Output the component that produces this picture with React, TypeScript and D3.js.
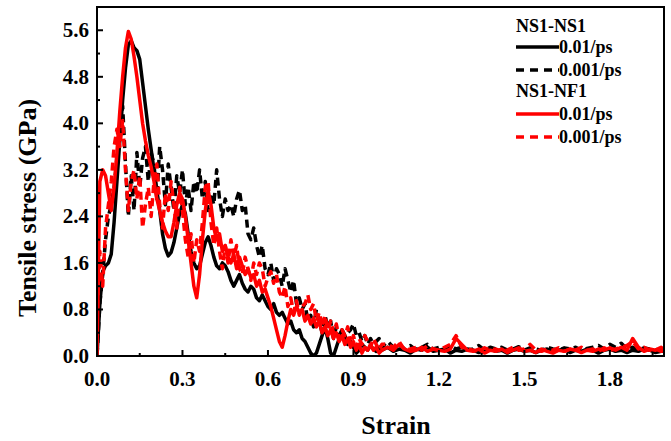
import React from "react";
import * as d3 from "d3";

const strain = [
  0.00, 0.01, 0.02, 0.03, 0.04, 0.05, 0.06, 0.07, 0.08, 0.09,
  0.10, 0.11, 0.12, 0.13, 0.14, 0.15, 0.16, 0.17, 0.18, 0.19,
  0.20, 0.21, 0.22, 0.23, 0.24, 0.25, 0.26, 0.27, 0.28, 0.29,
  0.30, 0.31, 0.32, 0.33, 0.34, 0.35, 0.36, 0.37, 0.38, 0.39,
  0.40, 0.41, 0.42, 0.43, 0.44, 0.45, 0.46, 0.47, 0.48, 0.49,
  0.50, 0.51, 0.52, 0.53, 0.54, 0.55, 0.56, 0.57, 0.58, 0.59,
  0.60, 0.61, 0.62, 0.63, 0.64, 0.65, 0.66, 0.67, 0.68, 0.69,
  0.70, 0.71, 0.72, 0.73, 0.74, 0.75, 0.76, 0.77, 0.78, 0.79,
  0.80, 0.81, 0.82, 0.83, 0.84, 0.85, 0.86, 0.87, 0.88, 0.89,
  0.90, 0.91, 0.92, 0.93, 0.94, 0.95, 0.96, 0.97, 0.98, 0.99,
  1.00, 1.02, 1.04, 1.06, 1.08, 1.10, 1.12, 1.14, 1.16, 1.18,
  1.20, 1.22, 1.24, 1.26, 1.28, 1.30, 1.32, 1.34, 1.36, 1.38,
  1.40, 1.42, 1.44, 1.46, 1.48, 1.50, 1.52, 1.54, 1.56, 1.58,
  1.60, 1.62, 1.64, 1.66, 1.68, 1.70, 1.72, 1.74, 1.76, 1.78,
  1.80, 1.82, 1.84, 1.86, 1.88, 1.90, 1.92, 1.94, 1.96, 1.98,
  2.00,
];

// NS1-NS1, 0.01/ps (black solid)
const nsnsFast = [
  0.0, 0.9, 1.45, 1.55, 1.6, 1.75, 2.3, 3.0, 3.7, 4.4,
  4.95, 5.35, 5.42, 5.3, 5.25, 5.1, 4.7, 4.3, 3.9, 3.55,
  3.2, 2.85, 2.5, 2.1, 1.85, 1.72, 1.78, 1.95, 2.2, 2.45,
  2.6, 2.45, 2.1, 1.8, 1.6, 1.5, 1.55, 1.75, 1.95, 2.05,
  1.9, 1.7, 1.55, 1.5, 1.6, 1.55, 1.45, 1.3, 1.2, 1.3,
  1.4, 1.25, 1.15, 1.1, 1.2, 1.15, 1.0, 0.95, 1.05, 0.95,
  0.85, 0.8, 0.9, 0.75, 0.7, 0.75, 0.65, 0.55, 0.6, 0.45,
  0.4, 0.45, 0.3, 0.25, 0.15, 0.05, 0.0, 0.05, 0.2, 0.35,
  0.5, 0.3, 0.05, 0.0, 0.15, 0.3, 0.45, 0.35, 0.2, 0.25,
  0.15, 0.05, 0.1, 0.2, 0.15, 0.1, 0.18, 0.12, 0.08, 0.15,
  0.1, 0.15, 0.08, 0.12, 0.1, 0.05, 0.12, 0.1, 0.15, 0.08,
  0.1, 0.12, 0.05, 0.1, 0.08, 0.12, 0.1, 0.06, 0.1, 0.12,
  0.08, 0.1, 0.05, 0.1, 0.12, 0.08, 0.1, 0.06, 0.1, 0.12,
  0.08, 0.1, 0.12, 0.06, 0.1, 0.08, 0.12, 0.1, 0.05, 0.1,
  0.12, 0.08, 0.1, 0.06, 0.1, 0.08, 0.12, 0.1, 0.06, 0.08,
  0.08,
];

// NS1-NS1, 0.001/ps (black dashed)
const nsnsSlow = [
  0.0, 0.9, 1.4, 2.0, 2.4, 2.6, 2.9, 3.4, 3.9, 4.3,
  3.3, 2.4, 3.1, 2.5, 3.5, 2.9, 3.4, 3.6, 3.0, 3.5,
  3.3, 2.7, 3.6, 3.2, 2.6, 3.3, 2.9, 2.5, 3.1, 2.8,
  3.2, 2.6, 2.9, 2.5, 3.0, 2.8, 3.2, 2.7, 3.0, 2.5,
  2.8, 2.6, 3.2, 2.7, 2.4, 2.7, 2.5, 2.6, 2.4, 2.7,
  2.85, 2.5, 2.6, 2.1, 2.0, 2.2, 1.9, 1.7, 1.9, 1.5,
  1.4, 1.6, 1.3, 1.5, 1.4, 1.2, 1.5, 1.3, 1.1, 1.3,
  0.9, 1.0, 0.8, 0.9, 0.6, 0.7, 0.5, 0.8, 0.6, 0.4,
  0.7, 0.5, 0.6, 0.3, 0.5, 0.35, 0.45, 0.3, 0.4, 0.45,
  0.55, 0.35, 0.4, 0.25, 0.35, 0.2, 0.3, 0.2, 0.25, 0.3,
  0.15, 0.25, 0.15, 0.2, 0.12, 0.18, 0.1, 0.15, 0.2, 0.12,
  0.15, 0.1, 0.18, 0.12, 0.15, 0.1, 0.12, 0.18, 0.1, 0.15,
  0.12, 0.15, 0.1, 0.12, 0.16, 0.1, 0.14, 0.12, 0.1, 0.15,
  0.12, 0.1, 0.14, 0.12, 0.15, 0.1, 0.13, 0.15, 0.18, 0.12,
  0.2, 0.15, 0.22, 0.12, 0.15, 0.1, 0.14, 0.12, 0.1, 0.12,
  0.08,
];

// NS1-NF1, 0.01/ps (red solid)
const nsnfFast = [
  0.0, 3.0, 3.2, 3.1, 2.8, 2.5, 2.9, 3.5, 4.2, 4.8,
  5.3, 5.58, 5.45, 5.15, 4.8, 4.4, 4.0, 3.7, 3.45, 3.25,
  3.0, 2.7, 2.5, 2.3, 2.15, 2.05, 2.05, 2.3, 2.6, 2.8,
  2.7, 2.4, 2.0, 1.6, 1.2, 1.0, 1.4, 2.0, 2.5, 2.85,
  2.6, 2.2, 2.0, 2.1, 1.8, 1.9, 1.7, 1.6, 1.75, 1.5,
  1.7, 1.55, 1.4, 1.5, 1.35, 1.4, 1.2, 1.3, 1.1, 1.15,
  1.0, 0.85, 0.65, 0.45, 0.25, 0.15, 0.35, 0.6, 0.8, 0.7,
  0.85, 0.75, 0.8, 0.6, 0.7, 0.55, 0.65, 0.5, 0.6, 0.4,
  0.5, 0.35, 0.45, 0.3, 0.4, 0.25, 0.35, 0.2, 0.3, 0.15,
  0.25, 0.1, 0.2, 0.05, 0.15, 0.1, 0.2, 0.1, 0.15, 0.05,
  0.1, 0.15, 0.1, 0.2, 0.12, 0.08, 0.1, 0.15, 0.08, 0.12,
  0.1, 0.08, 0.12, 0.3, 0.2, 0.1, 0.08, 0.12, 0.05, 0.1,
  0.08, 0.12, 0.06, 0.1, 0.14, 0.08, 0.1, 0.06, 0.12, 0.08,
  0.05, 0.1, 0.08, 0.12, 0.1, 0.06, 0.1, 0.08, 0.12, 0.1,
  0.14, 0.1, 0.15, 0.1, 0.3, 0.15, 0.08, 0.12, 0.1, 0.15,
  0.05,
];

// NS1-NF1, 0.001/ps (red dashed)
const nsnfSlow = [
  0.6, 1.8, 1.2, 2.2, 2.6, 3.0, 3.6, 3.9, 3.6, 4.05,
  3.2, 2.5, 3.0, 3.2, 2.7, 3.1, 2.2, 2.6, 2.9, 2.4,
  3.0, 3.3, 2.6, 2.2, 2.8, 2.5, 3.0, 2.6, 2.2, 2.9,
  2.5, 2.0, 1.7, 2.1, 1.6, 2.0, 1.8, 2.3, 2.9, 3.0,
  2.3, 1.9, 2.2, 1.8, 1.5, 1.9, 1.6, 2.0, 1.7, 1.9,
  1.5, 1.4, 1.7, 1.5, 1.3, 1.6, 1.4, 1.6, 1.5, 1.2,
  1.35, 1.45, 1.25, 1.4, 1.1, 1.0, 1.2, 0.85, 1.0, 0.75,
  0.95, 0.7, 0.85, 0.9, 1.05, 0.8, 0.9, 0.6, 0.75, 0.5,
  0.7, 0.45, 0.6, 0.4, 0.55, 0.3, 0.45, 0.35, 0.5, 0.2,
  0.35, 0.15, 0.3, 0.2, 0.35, 0.25, 0.15, 0.3, 0.2, 0.1,
  0.2, 0.2, 0.15, 0.25, 0.1, 0.12, 0.15, 0.1, 0.18, 0.12,
  0.1, 0.15, 0.2, 0.35, 0.15, 0.12, 0.1, 0.08, 0.14, 0.1,
  0.12, 0.08, 0.1, 0.15, 0.1, 0.12, 0.2, 0.1, 0.08, 0.12,
  0.1, 0.14, 0.08, 0.12, 0.1, 0.15, 0.1, 0.12, 0.08, 0.14,
  0.1, 0.12, 0.15, 0.18, 0.25, 0.12, 0.15, 0.1, 0.12, 0.08,
  0.1,
];

const xMajorTicks = [0.0, 0.3, 0.6, 0.9, 1.2, 1.5, 1.8];
const xMinorTicks = [0.15, 0.45, 0.75, 1.05, 1.35, 1.65, 1.95];
const yMajorTicks = [0.0, 0.8, 1.6, 2.4, 3.2, 4.0, 4.8, 5.6];
const yMinorTicks = [0.4, 1.2, 2.0, 2.8, 3.6, 4.4, 5.2];

const legendGroups = ["NS1-NS1", "NS1-NF1"];
const legendRates = ["0.01/ps", "0.001/ps"];

const W = 671;
const H = 441;
const L = 97;
const R = 664;
const T = 7;
const B = 356;
const FONT = "'Liberation Serif', 'Times New Roman', serif";

export default function App() {
  const x = d3.scaleLinear().domain([0, 1.99]).range([L, R]);
  const y = d3.scaleLinear().domain([0, 6.0]).range([B, T]);
  const line = d3
    .line<number>()
    .x((_, i) => x(strain[i]))
    .y((d) => y(d));

  const series = [
    { data: nsnsSlow, color: "#000", dash: "8,5" },
    { data: nsnsFast, color: "#000", dash: null },
    { data: nsnfSlow, color: "#f00", dash: "8,5" },
    { data: nsnfFast, color: "#f00", dash: null },
  ];

  const legendRows = [
    { type: "title", text: legendGroups[0], y: 32 },
    { type: "line", text: legendRates[0], color: "#000", dash: null, y: 47 },
    { type: "line", text: legendRates[1], color: "#000", dash: "8,6", y: 70 },
    { type: "title", text: legendGroups[1], y: 97 },
    { type: "line", text: legendRates[0], color: "#f00", dash: null, y: 114 },
    { type: "line", text: legendRates[1], color: "#f00", dash: "8,6", y: 137 },
  ];

  return (
    <div style={{ position: "fixed", left: 0, top: 0 }}>
      <svg width={W} height={H} style={{ display: "block", background: "#fff" }}>
        <defs>
          <clipPath id="plotclip">
            <rect x={L} y={T} width={R - L} height={B - T} />
          </clipPath>
        </defs>
        <g clipPath="url(#plotclip)">
          {series.map((s, i) => (
            <path
              key={i}
              d={line(s.data) || ""}
              fill="none"
              stroke={s.color}
              strokeWidth={3.5}
              strokeDasharray={s.dash || undefined}
              strokeLinejoin="round"
            />
          ))}
        </g>
        <rect x={L} y={T} width={R - L} height={B - T} fill="none" stroke="#000" strokeWidth={2} />
        {xMajorTicks.map((t) => (
          <g key={"xm" + t}>
            <line x1={x(t)} x2={x(t)} y1={B} y2={B - 6} stroke="#000" strokeWidth={2} />
            <text
              x={x(t)}
              y={386}
              textAnchor="middle"
              fontFamily={FONT}
              fontWeight="bold"
              fontSize={21}
            >
              {t.toFixed(1)}
            </text>
          </g>
        ))}
        {xMinorTicks.map((t) => (
          <line key={"xn" + t} x1={x(t)} x2={x(t)} y1={B} y2={B - 3} stroke="#000" strokeWidth={2} />
        ))}
        {yMajorTicks.map((t) => (
          <g key={"ym" + t}>
            <line x1={L} x2={L + 6} y1={y(t)} y2={y(t)} stroke="#000" strokeWidth={2} />
            <text
              x={89}
              y={y(t) + 7}
              textAnchor="end"
              fontFamily={FONT}
              fontWeight="bold"
              fontSize={21}
            >
              {t.toFixed(1)}
            </text>
          </g>
        ))}
        {yMinorTicks.map((t) => (
          <line key={"yn" + t} x1={L} x2={L + 3} y1={y(t)} y2={y(t)} stroke="#000" strokeWidth={2} />
        ))}
        <text
          transform="translate(36,208) rotate(-90)"
          textAnchor="middle"
          fontFamily={FONT}
          fontWeight="bold"
          fontSize={26}
        >
          Tensile stress (GPa)
        </text>
        <text x={396} y={434} textAnchor="middle" fontFamily={FONT} fontWeight="bold" fontSize={26}>
          Strain
        </text>
        {legendRows.map((r, i) =>
          r.type === "title" ? (
            <text key={i} x={516} y={r.y} fontFamily={FONT} fontWeight="bold" fontSize={18}>
              {r.text}
            </text>
          ) : (
            <g key={i}>
              <line
                x1={516}
                x2={559}
                y1={r.y}
                y2={r.y}
                stroke={r.color}
                strokeWidth={3.5}
                strokeDasharray={r.dash || undefined}
              />
              <text x={559} y={r.y + 6} fontFamily={FONT} fontWeight="bold" fontSize={18}>
                {r.text}
              </text>
            </g>
          )
        )}
      </svg>
    </div>
  );
}
